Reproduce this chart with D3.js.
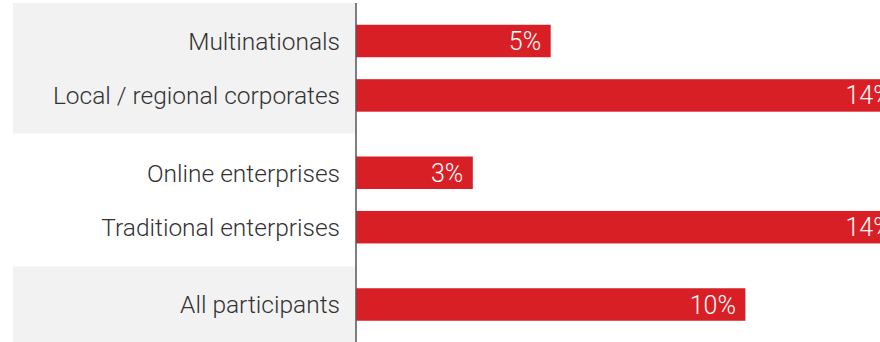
<!DOCTYPE html>
<html><head><meta charset="utf-8">
<script src="https://cdn.jsdelivr.net/npm/d3@7"></script>
<style>html,body{margin:0;padding:0;background:#fff;}svg{display:block;}</style>
</head><body>
<svg id="chart" width="880" height="342"></svg>
<script>
const categories = ["Multinationals", "Local / regional corporates", "Online enterprises", "Traditional enterprises", "All participants"];
const values = [5, 14, 3, 14, 10];
const groups = [0, 0, 1, 1, 2];
const shadedGroups = [0, 2];

const W = 880, H = 342;
const x0 = 356;
const svg = d3.select("#chart");

const slots = categories.map((c, i) => i + groups[i] * 0.42);
const x = d3.scaleLinear().domain([0, 5]).range([x0, 550.7]);
const y = d3.scaleLinear().domain([0, d3.max(slots)]).range([41, 304.5]);
const barH = 32.5, pad = 38;

const font = "Roboto, 'Liberation Sans', Arial, sans-serif";

// shaded group panels
shadedGroups.forEach(g => {
  const idx = d3.range(categories.length).filter(i => groups[i] === g);
  const top = y(slots[idx[0]]) - pad;
  const bot = y(slots[idx[idx.length - 1]]) + pad;
  svg.append("rect").attr("x", 13).attr("y", Math.max(3, top))
    .attr("width", x0 - 13).attr("height", Math.min(H, bot) - Math.max(3, top))
    .attr("fill", "#f2f2f2");
});

// bars
svg.selectAll("rect.bar").data(values).join("rect").attr("class", "bar")
  .attr("x", x(0)).attr("y", (d, i) => y(slots[i]) - barH / 2)
  .attr("width", d => x(d) - x(0)).attr("height", barH)
  .attr("fill", "#d91f26");

// value labels
svg.selectAll("text.val").data(values).join("text").attr("class", "val")
  .attr("x", d => x(d) - 9.5).attr("y", (d, i) => y(slots[i]))
  .attr("dy", "0.36em").attr("text-anchor", "end")
  .attr("font-family", font).attr("font-weight", 300).attr("font-size", 25)
  .attr("fill", "#fff").text(d => d + "%");

// category labels
svg.selectAll("text.cat").data(categories).join("text").attr("class", "cat")
  .attr("x", 340).attr("y", (d, i) => y(slots[i]))
  .attr("dy", "0.36em").attr("text-anchor", "end")
  .attr("font-family", font).attr("font-weight", 300).attr("font-size", 24.5)
  .attr("fill", "#333").text(d => d);

// axis line
svg.append("line").attr("x1", x0).attr("x2", x0).attr("y1", 3).attr("y2", H)
  .attr("stroke", "#555").attr("stroke-width", 1.5);
</script>
</body></html>
